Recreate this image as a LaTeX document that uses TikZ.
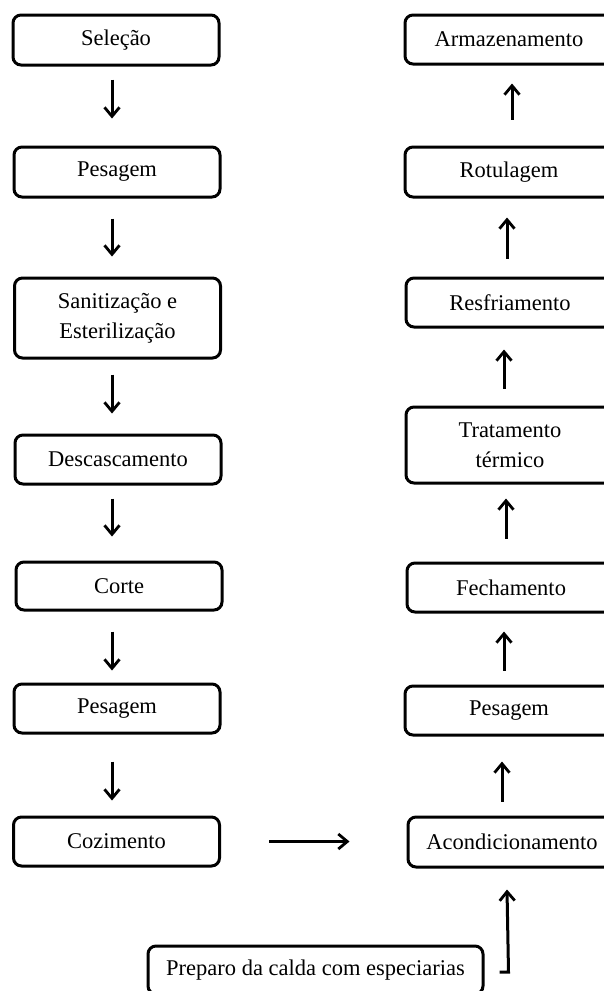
\documentclass[tikz,border=0pt]{standalone}
\usepackage{fontspec}
\setmainfont{Liberation Serif}
\usetikzlibrary{arrows.meta}
\begin{document}
\begin{tikzpicture}[x=1pt,y=-1pt,
  box/.style={draw, line width=3pt, rounded corners=8pt, align=center, inner sep=0pt,
    font=\fontsize{22.5}{30}\selectfont},
  lbox/.style={box, minimum width=206pt},
  rbox/.style={box, minimum width=208pt},
  tip/.style={-{Straight Barb[length=9pt,width=15pt,line width=2.8pt]}},
  arr/.style={line width=3pt, tip}]
\useasboundingbox (0,0) rectangle (604,991);
\clip (0,0) rectangle (604,991);
% left column
\node[lbox, minimum height=50pt] (sel) at (116,40) {Seleção};
\node[lbox, minimum height=50pt] (pes1) at (117,172) {Pesagem};
\node[lbox, minimum height=80pt] (san) at (117.5,318) {Sanitização e\\Esterilização};
\node[lbox, minimum height=49pt] (desc) at (118,459.5) {Descascamento};
\node[lbox, minimum height=48pt] (corte) at (119,586) {Corte};
\node[lbox, minimum height=49pt] (pes2) at (117,708.5) {Pesagem};
\node[lbox, minimum height=49pt] (coz) at (116.5,841.5) {Cozimento};
% right column
\node[rbox, minimum height=49pt] (arm) at (509,39.5) {Armazenamento};
\node[rbox, minimum height=50pt] (rot) at (509,172) {Rotulagem};
\node[rbox, minimum height=49pt] (resf) at (510,302.5) {Resfriamento};
\node[rbox, minimum height=76pt] (trat) at (510,445) {Tratamento\\térmico};
\node[rbox, minimum height=49pt] (fech) at (511,587.5) {Fechamento};
\node[rbox, minimum height=49pt] (pes3) at (509,710.5) {Pesagem};
\node[rbox, minimum height=50pt] (acond) at (512,842) {Acondicionamento};
% bottom
\node[box, minimum width=335pt, minimum height=48pt] (prep) at (315.5,970) {Preparo da calda com especiarias};
% left arrows
\draw[arr, shorten <=13pt, shorten >=27pt] ([xshift=-4pt]sel.south) -- ([xshift=-5pt]pes1.north);
\draw[arr, shorten <=20pt, shorten >=20pt] ([xshift=-5pt]pes1.south) -- ([xshift=-5.5pt]san.north);
\draw[arr, shorten <=15pt, shorten >=20pt] ([xshift=-5.5pt]san.south) -- ([xshift=-6pt]desc.north);
\draw[arr, shorten <=13pt, shorten >=24pt] ([xshift=-6pt]desc.south) -- ([xshift=-7pt]corte.north);
\draw[arr, shorten <=20pt, shorten >=12pt] ([xshift=-7pt]corte.south) -- ([xshift=-5pt]pes2.north);
\draw[arr, shorten <=27pt, shorten >=15pt] ([xshift=-5pt]pes2.south) -- ([xshift=-4.5pt]coz.north);
% right arrows
\draw[arr, shorten <=14pt, shorten >=25pt] ([xshift=-10pt]acond.north) -- ([xshift=-7pt]pes3.south);
\draw[arr, shorten <=14pt, shorten >=18pt] ([xshift=-5pt]pes3.north) -- ([xshift=-7pt]fech.south);
\draw[arr, shorten <=23pt, shorten >=14pt] ([xshift=-5pt]fech.north) -- ([xshift=-4pt]trat.south);
\draw[arr, shorten <=17pt, shorten >=21pt] ([xshift=-6pt]trat.north) -- ([xshift=-6pt]resf.south);
\draw[arr, shorten <=18pt, shorten >=19pt] ([xshift=-3pt]resf.north) -- ([xshift=-2pt]rot.south);
\draw[arr, shorten <=26pt, shorten >=18pt] ([xshift=3pt]rot.north) -- ([xshift=3pt]arm.south);
% horizontal arrow
\draw[arr, shorten <=48pt, shorten >=57pt] (coz.east) -- (acond.west |- coz.east);
% preparo connector
\coordinate (pstart) at ([xshift=15pt,yshift=-2pt]prep.east);
\draw[arr] (pstart) -- ++(9,0) -- ([xshift=-5pt,yshift=-21pt]acond.south);
\end{tikzpicture}
\end{document}
